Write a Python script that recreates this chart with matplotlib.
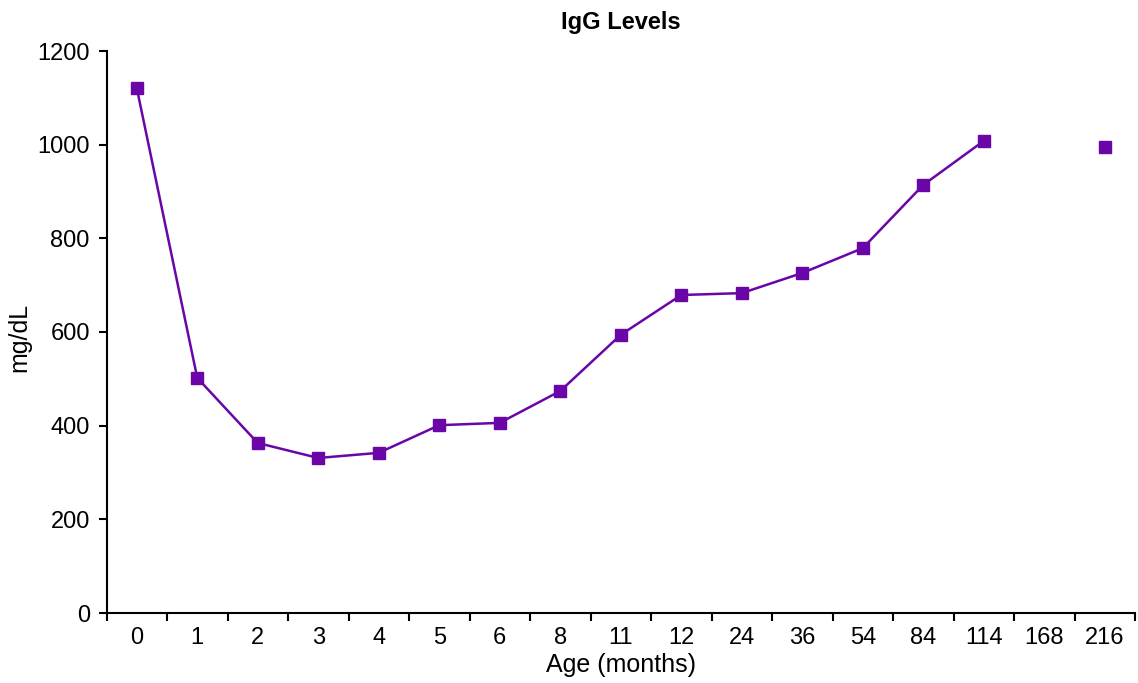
import numpy as np
import matplotlib
matplotlib.use("Agg")
import matplotlib.pyplot as plt

plt.rcParams['font.family'] = ['Liberation Sans', 'DejaVu Sans']

age_labels = ["0", "1", "2", "3", "4", "5", "6", "8", "11", "12",
              "24", "36", "54", "84", "114", "168", "216"]
igg_mg_dl = [1121, 502, 363, 331, 342, 401, 406, 474, 594, 679,
             683, 726, 779, 914, 1008, np.nan, 995]

purple = "#6A05A8"

fig = plt.figure(figsize=(11.38, 6.83), dpi=100)
W, H = 1138, 683
ax = fig.add_axes([106.5 / W, (H - 613) / H, (1135 - 106.5) / W, 562 / H])

x = np.arange(len(age_labels))
ax.plot(x, igg_mg_dl, color=purple, linewidth=1.8, marker="s",
        markersize=8, markerfacecolor=purple, markeredgecolor=purple,
        clip_on=False)

ax.set_xlim(-0.5, len(age_labels) - 0.5)
ax.set_ylim(0, 1200)
ax.set_yticks(np.arange(0, 1201, 200))

# category labels centred, tick marks on the boundaries between categories
ax.set_xticks(x)
ax.set_xticklabels(age_labels)
ax.set_xticks(np.arange(-0.5, len(age_labels)), minor=True)
ax.tick_params(axis="x", which="major", length=0, pad=10, labelsize=17)
ax.tick_params(axis="x", which="minor", length=6, width=1.5, direction="out")
ax.tick_params(axis="y", length=6, width=1.5, direction="out", pad=6,
               labelsize=17)

for side in ("top", "right"):
    ax.spines[side].set_visible(False)
for side in ("left", "bottom"):
    ax.spines[side].set_linewidth(1.5)

ax.set_title("IgG Levels", fontsize=17, fontweight="bold", pad=16)
ax.set_xlabel("Age (months)", fontsize=18)
ax.set_ylabel("mg/dL", fontsize=18)
ax.xaxis.set_label_coords(0.5, -0.072)
ax.yaxis.set_label_coords(-0.073, 0.49)

fig.savefig("out.png", dpi=100)
